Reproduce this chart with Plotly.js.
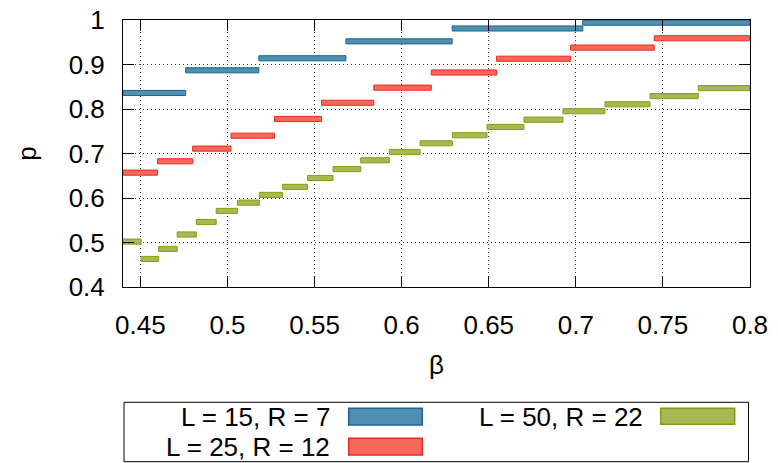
<!DOCTYPE html>
<html>
<head>
<meta charset="utf-8">
<script src="https://cdn.plot.ly/plotly-3.0.1.min.js"></script>
<style>html,body{margin:0;padding:0;background:#fff;}#chart{width:778px;height:463px;}</style>
</head>
<body>
<div id="chart"></div>
<script>
// ---- data ----
const seriesNames = ["L = 15, R = 7", "L = 25, R = 12", "L = 50, R = 22"];

// L = 15, R = 7 : step edges in beta and the p value of each step
const blueEdges = [0.44, 0.476, 0.518, 0.568, 0.629, 0.704, 0.8];
const blueP     = [0.836, 0.887, 0.914, 0.952, 0.981, 0.994];

// L = 25, R = 12
const redEdges = [0.44, 0.4598, 0.480, 0.502, 0.527, 0.554, 0.584, 0.617, 0.6545, 0.697, 0.745, 0.8];
const redP     = [0.657, 0.6825, 0.711, 0.740, 0.7775, 0.814, 0.848, 0.882, 0.913, 0.938, 0.959];

// L = 50, R = 22
const oliveEdges = [0.44, 0.4504, 0.4605, 0.4711, 0.4821, 0.4935, 0.5057, 0.5183, 0.5317, 0.5459, 0.5606,
                    0.5765, 0.5929, 0.6106, 0.6291, 0.649, 0.6702, 0.6926, 0.7167, 0.7426, 0.7703, 0.8];
const oliveP     = [0.502, 0.463, 0.4855, 0.518, 0.546, 0.571, 0.5895, 0.607, 0.625, 0.645, 0.665,
                    0.6847, 0.7034, 0.723, 0.741, 0.7596, 0.776, 0.795, 0.8106, 0.829, 0.847];

const xTickVals = [0.45, 0.5, 0.55, 0.6, 0.65, 0.7, 0.75, 0.8];
const xTickText = ["0.45", "0.5", "0.55", "0.6", "0.65", "0.7", "0.75", "0.8"];
const yTickVals = [0.4, 0.5, 0.6, 0.7, 0.8, 0.9, 1.0];
const yTickText = ["0.4", "0.5", "0.6", "0.7", "0.8", "0.9", "1"];

// ---- styles ----
const fills   = ["#4f8fb1", "#f6685c", "#a8b852"];
const borders = ["#1b6592", "#ec2a1c", "#8a9a16"];
const FONT = "Liberation Sans, Arial, sans-serif";
const FS = 26;

function stepTrace(edges, p, i) {
  const base = [], w = [];
  for (let k = 0; k < p.length; k++) { base.push(edges[k]); w.push(edges[k + 1] - edges[k]); }
  return {
    type: "bar", orientation: "h", name: seriesNames[i],
    y: p, x: w, base: base, width: 0.0115,
    marker: {color: fills[i], line: {color: borders[i], width: 1}},
    showlegend: false, hoverinfo: "skip"
  };
}

const data = [
  stepTrace(blueEdges, blueP, 0),
  stepTrace(redEdges, redP, 1),
  stepTrace(oliveEdges, oliveP, 2)
];

// plot-area geometry (pixels) for placing the hand-built legend
const W = 778, H = 463, ML = 123, MR = 28, MT = 20, MB = 176;
const PW = W - ML - MR, PH = H - MT - MB;
const px = v => (v - ML) / PW;
const py = v => (H - MB - v) / PH;

const legendRows = [
  {text: seriesNames[0], tx: 331.7, ty: 416.7, sx0: 348.7, sx1: 422.3, sy0: 408.3, sy1: 425, c: 0},
  {text: seriesNames[1], tx: 331.7, ty: 446.7, sx0: 348.7, sx1: 422.3, sy0: 438.3, sy1: 455, c: 1},
  {text: seriesNames[2], tx: 645,   ty: 416.7, sx0: 660.7, sx1: 734.7, sy0: 408.3, sy1: 424.3, c: 2}
];

const shapes = [{
  type: "rect", xref: "paper", yref: "paper",
  x0: px(124), x1: px(748.5), y0: py(402.3), y1: py(461.7),
  line: {color: "#000", width: 1}, fillcolor: "rgba(0,0,0,0)"
}];
const annotations = [];
legendRows.forEach(r => {
  shapes.push({type: "rect", xref: "paper", yref: "paper",
    x0: px(r.sx0), x1: px(r.sx1), y0: py(r.sy0), y1: py(r.sy1),
    fillcolor: fills[r.c], line: {color: borders[r.c], width: 1.5}});
  annotations.push({xref: "paper", yref: "paper", x: px(r.tx), y: py(r.ty),
    xanchor: "right", yanchor: "middle", showarrow: false, text: r.text,
    font: {family: FONT, size: FS, color: "#000"}});
});

const axisCommon = {
  showline: true, linecolor: "#000", linewidth: 1, mirror: "ticks",
  ticks: "inside", ticklen: 11, tickwidth: 1, tickcolor: "#000",
  showgrid: true, gridcolor: "#333", griddash: "1px,3px", gridwidth: 1,
  zeroline: false, tickfont: {family: FONT, size: FS, color: "#000"}
};

const layout = {
  width: W, height: H,
  margin: {l: ML, r: MR, t: MT, b: MB},
  paper_bgcolor: "#fff", plot_bgcolor: "#fff",
  barmode: "overlay",
  xaxis: Object.assign({}, axisCommon, {
    range: [0.44, 0.8], tickvals: xTickVals, ticktext: xTickText,
    ticklabelstandoff: 15,
    title: {text: "β", font: {family: FONT, size: FS, color: "#000"}, standoff: 16}
  }),
  yaxis: Object.assign({}, axisCommon, {
    range: [0.4, 1.0], tickvals: yTickVals, ticktext: yTickText,
    ticklabelstandoff: 12,
    title: {text: "p", font: {family: FONT, size: FS, color: "#000"}, standoff: 24}
  }),
  shapes: shapes, annotations: annotations,
  showlegend: false
};

Plotly.newPlot("chart", data, layout, {staticPlot: true, displayModeBar: false});
</script>
</body>
</html>
